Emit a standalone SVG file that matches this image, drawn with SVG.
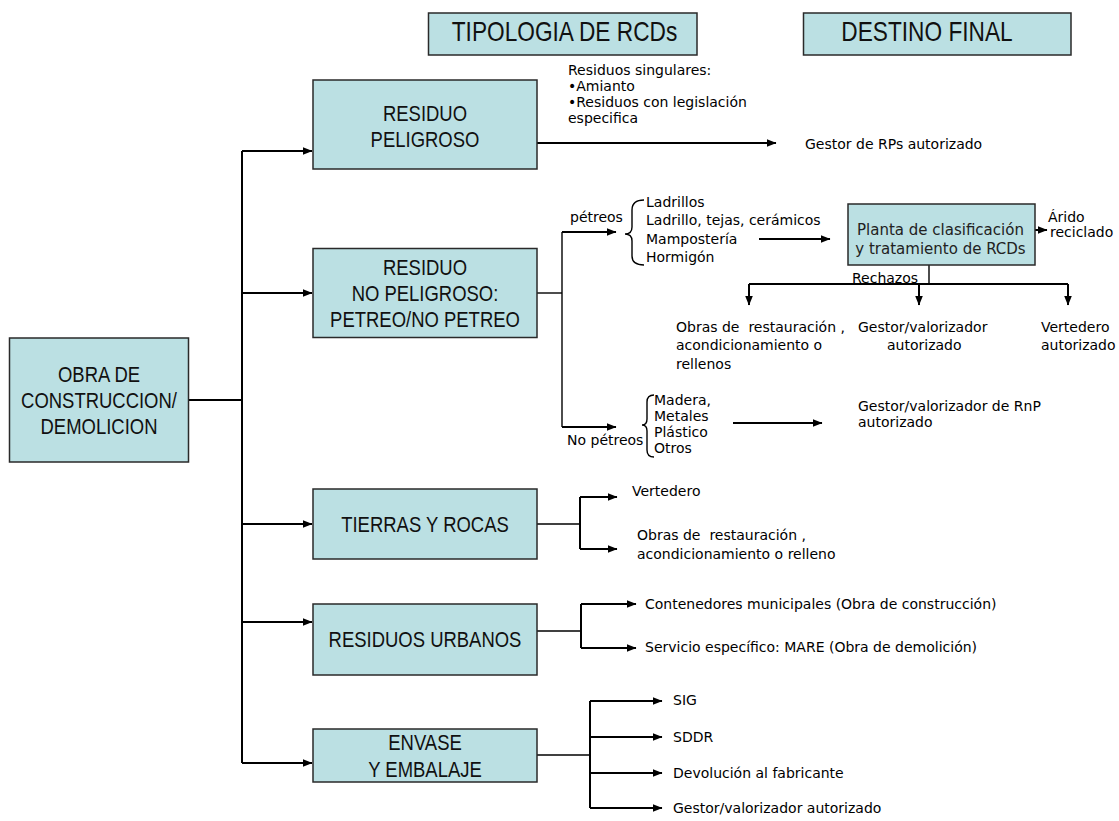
<svg xmlns="http://www.w3.org/2000/svg" width="1119" height="821" viewBox="0 0 1119 821">
  <defs>
    <marker id="ah" markerUnits="userSpaceOnUse" markerWidth="10" markerHeight="10" refX="9" refY="5" orient="auto">
      <path d="M0,1.2 L9.5,5 L0,8.8 z" fill="#000"/>
    </marker>
    <style>
      .box { fill: #BBE0E3; stroke: #2a2a2a; stroke-width: 1.5; }
      .big { font-family: "Liberation Sans", Arial, sans-serif; font-size: 22px; fill: #111; text-anchor: middle; }
      .head { font-family: "Liberation Sans", Arial, sans-serif; font-size: 27px; fill: #111; text-anchor: middle; }
      .sm { font-family: "DejaVu Sans", Verdana, sans-serif; font-size: 14px; fill: #000; white-space: pre; }
      .mid { text-anchor: middle; }
      .ln { fill: none; stroke: #000; stroke-width: 2; }
      .thin { fill: none; stroke: #000; stroke-width: 1.4; }
      .arr { marker-end: url(#ah); }
    </style>
  </defs>

  <rect width="1119" height="821" fill="#fff"/>

  <!-- column headers -->
  <g id="hdr-tipologia">
    <rect class="box" x="428.5" y="13" width="268.5" height="42"/>
    <text class="head" transform="translate(564.5,40.5) scale(0.84,1)">TIPOLOGIA DE RCDs</text>
  </g>
  <g id="hdr-destino">
    <rect class="box" x="803.5" y="13" width="267.5" height="42"/>
    <text class="head" transform="translate(927,40.5) scale(0.84,1)">DESTINO FINAL</text>
  </g>

  <!-- connectors -->
  <g id="connectors">
    <path class="ln" d="M188.5,400 H242"/>
    <path class="ln" d="M242,151 V763"/>
    <path class="ln arr" d="M242,151 H312"/>
    <path class="ln arr" d="M242,293 H312"/>
    <path class="ln arr" d="M242,524 H312"/>
    <path class="ln arr" d="M242,622 H312"/>
    <path class="ln arr" d="M242,763 H312"/>

    <!-- residuo peligroso -->
    <path class="ln arr" d="M537,143 H776"/>

    <!-- residuo no peligroso -->
    <path class="thin" d="M537,293 H562"/>
    <path class="thin" d="M562,232 V427"/>
    <path class="ln arr" d="M562,232 H616"/>
    <path class="ln arr" d="M562,427 H616"/>
    <path class="ln arr" d="M759,239 H830"/>
    <path class="ln arr" d="M733,423 H822"/>

    <!-- planta de clasificacion -->
    <path class="ln arr" d="M1035,230 H1047"/>
    <path class="thin" d="M929,265 V284"/>
    <path class="ln" d="M749,284 H1068"/>
    <path class="ln arr" d="M749,284 V305"/>
    <path class="ln arr" d="M919,284 V305"/>
    <path class="ln arr" d="M1068,284 V305"/>

    <!-- tierras y rocas -->
    <path class="thin" d="M537,524 H580"/>
    <path class="ln" d="M580,497 V549"/>
    <path class="ln arr" d="M580,497 H617"/>
    <path class="ln arr" d="M580,549 H617"/>

    <!-- residuos urbanos -->
    <path class="thin" d="M537,631 H581"/>
    <path class="ln" d="M581,604 V648"/>
    <path class="ln arr" d="M581,604 H636"/>
    <path class="ln arr" d="M581,648 H636"/>

    <!-- envase y embalaje -->
    <path class="thin" d="M537,755 H590"/>
    <path class="ln" d="M590,701 V808"/>
    <path class="ln arr" d="M590,701 H662"/>
    <path class="ln arr" d="M590,737 H662"/>
    <path class="ln arr" d="M590,773 H662"/>
    <path class="ln arr" d="M590,808 H662"/>

    <!-- braces -->
    <path class="thin" d="M644,200 Q632,200 632,210 L632,227 Q632,234 625,234 Q632,234 632,241 L632,256 Q632,265 644,265"/>
    <path class="thin" d="M654,395 Q647,395 647,402 L647,419 Q647,425 642,425 Q647,425 647,431 L647,450 Q647,457 654,457"/>
  </g>

  <!-- source node -->
  <g id="obra">
    <rect class="box" x="9.5" y="338" width="179" height="124"/>
    <text class="big" transform="translate(99,381.5) scale(0.84,1)">OBRA DE</text>
    <text class="big" transform="translate(99,407.5) scale(0.84,1)">CONSTRUCCION/</text>
    <text class="big" transform="translate(99,433.5) scale(0.84,1)">DEMOLICION</text>
  </g>

  <!-- waste types -->
  <g id="residuo-peligroso">
    <rect class="box" x="313" y="80" width="224" height="89"/>
    <text class="big" transform="translate(425,121) scale(0.84,1)">RESIDUO</text>
    <text class="big" transform="translate(425,147) scale(0.84,1)">PELIGROSO</text>
  </g>
  <g id="residuo-no-peligroso">
    <rect class="box" x="313" y="248.5" width="224" height="89"/>
    <text class="big" transform="translate(425,275) scale(0.84,1)">RESIDUO</text>
    <text class="big" transform="translate(425,301) scale(0.84,1)">NO PELIGROSO:</text>
    <text class="big" transform="translate(425,327) scale(0.84,1)">PETREO/NO PETREO</text>
  </g>
  <g id="tierras-rocas">
    <rect class="box" x="313" y="489" width="224" height="70"/>
    <text class="big" transform="translate(425,532) scale(0.84,1)">TIERRAS Y ROCAS</text>
  </g>
  <g id="residuos-urbanos">
    <rect class="box" x="313" y="604" width="224" height="71"/>
    <text class="big" transform="translate(425,647) scale(0.84,1)">RESIDUOS URBANOS</text>
  </g>
  <g id="envase-embalaje">
    <rect class="box" x="313" y="729" width="224" height="53"/>
    <text class="big" transform="translate(425,749.5) scale(0.84,1)">ENVASE</text>
    <text class="big" transform="translate(425,776.5) scale(0.84,1)">Y EMBALAJE</text>
  </g>

  <!-- hazardous waste notes and destination -->
  <g id="residuos-singulares">
    <text class="sm" x="568" y="75">Residuos singulares:</text>
    <text class="sm" x="568" y="91">•Amianto</text>
    <text class="sm" x="568" y="107">•Residuos con legislación</text>
    <text class="sm" x="568" y="123">especifica</text>
  </g>
  <g id="gestor-rps">
    <text class="sm" x="805" y="148.5">Gestor de RPs autorizado</text>
  </g>

  <!-- stone fraction -->
  <g id="petreos">
    <text class="sm" x="570" y="222">pétreos</text>
    <text class="sm" x="646" y="207">Ladrillos</text>
    <text class="sm" x="646" y="225">Ladrillo, tejas, cerámicos</text>
    <text class="sm" x="646" y="243.5">Mampostería</text>
    <text class="sm" x="646" y="261.5">Hormigón</text>
  </g>
  <g id="planta">
    <rect class="box" x="848" y="204" width="187" height="61"/>
    <text class="sm mid" x="940.5" y="235" style="font-size:15px;fill:#222">Planta de clasificación</text>
    <text class="sm mid" x="940.5" y="253.5" style="font-size:15px;fill:#222">y tratamiento de RCDs</text>
  </g>
  <g id="arido">
    <text class="sm" x="1048" y="222">Árido</text>
    <text class="sm" x="1050" y="237">reciclado</text>
  </g>
  <g id="rechazos">
    <text class="sm" x="852" y="282.5">Rechazos</text>
  </g>
  <g id="obras-restauracion">
    <text class="sm" x="676" y="332">Obras de  restauración ,</text>
    <text class="sm" x="676" y="350">acondicionamiento o</text>
    <text class="sm" x="676" y="368.5">rellenos</text>
  </g>
  <g id="gestor-valorizador">
    <text class="sm" x="858" y="332">Gestor/valorizador</text>
    <text class="sm" x="887" y="350">autorizado</text>
  </g>
  <g id="vertedero-autorizado">
    <text class="sm" x="1041" y="332">Vertedero</text>
    <text class="sm" x="1041" y="350">autorizado</text>
  </g>

  <!-- non-stone fraction -->
  <g id="no-petreos">
    <text class="sm" x="567" y="445">No pétreos</text>
    <text class="sm" x="654" y="405">Madera,</text>
    <text class="sm" x="654" y="420.5">Metales</text>
    <text class="sm" x="654" y="436.5">Plástico</text>
    <text class="sm" x="654" y="452.5">Otros</text>
  </g>
  <g id="gestor-rnp">
    <text class="sm" x="858" y="411">Gestor/valorizador de RnP</text>
    <text class="sm" x="858" y="427">autorizado</text>
  </g>

  <!-- soil and rock destinations -->
  <g id="vertedero">
    <text class="sm" x="632" y="496">Vertedero</text>
  </g>
  <g id="obras-relleno">
    <text class="sm" x="637" y="540">Obras de  restauración ,</text>
    <text class="sm" x="637" y="558.5">acondicionamiento o relleno</text>
  </g>

  <!-- urban waste destinations -->
  <g id="contenedores">
    <text class="sm" x="645" y="609">Contenedores municipales (Obra de construcción)</text>
  </g>
  <g id="mare">
    <text class="sm" x="645" y="652">Servicio específico: MARE (Obra de demolición)</text>
  </g>

  <!-- packaging destinations -->
  <g id="sig"><text class="sm" x="673" y="705">SIG</text></g>
  <g id="sddr"><text class="sm" x="673" y="742">SDDR</text></g>
  <g id="devolucion"><text class="sm" x="673" y="778">Devolución al fabricante</text></g>
  <g id="gestor-envases"><text class="sm" x="673" y="813">Gestor/valorizador autorizado</text></g>
</svg>
